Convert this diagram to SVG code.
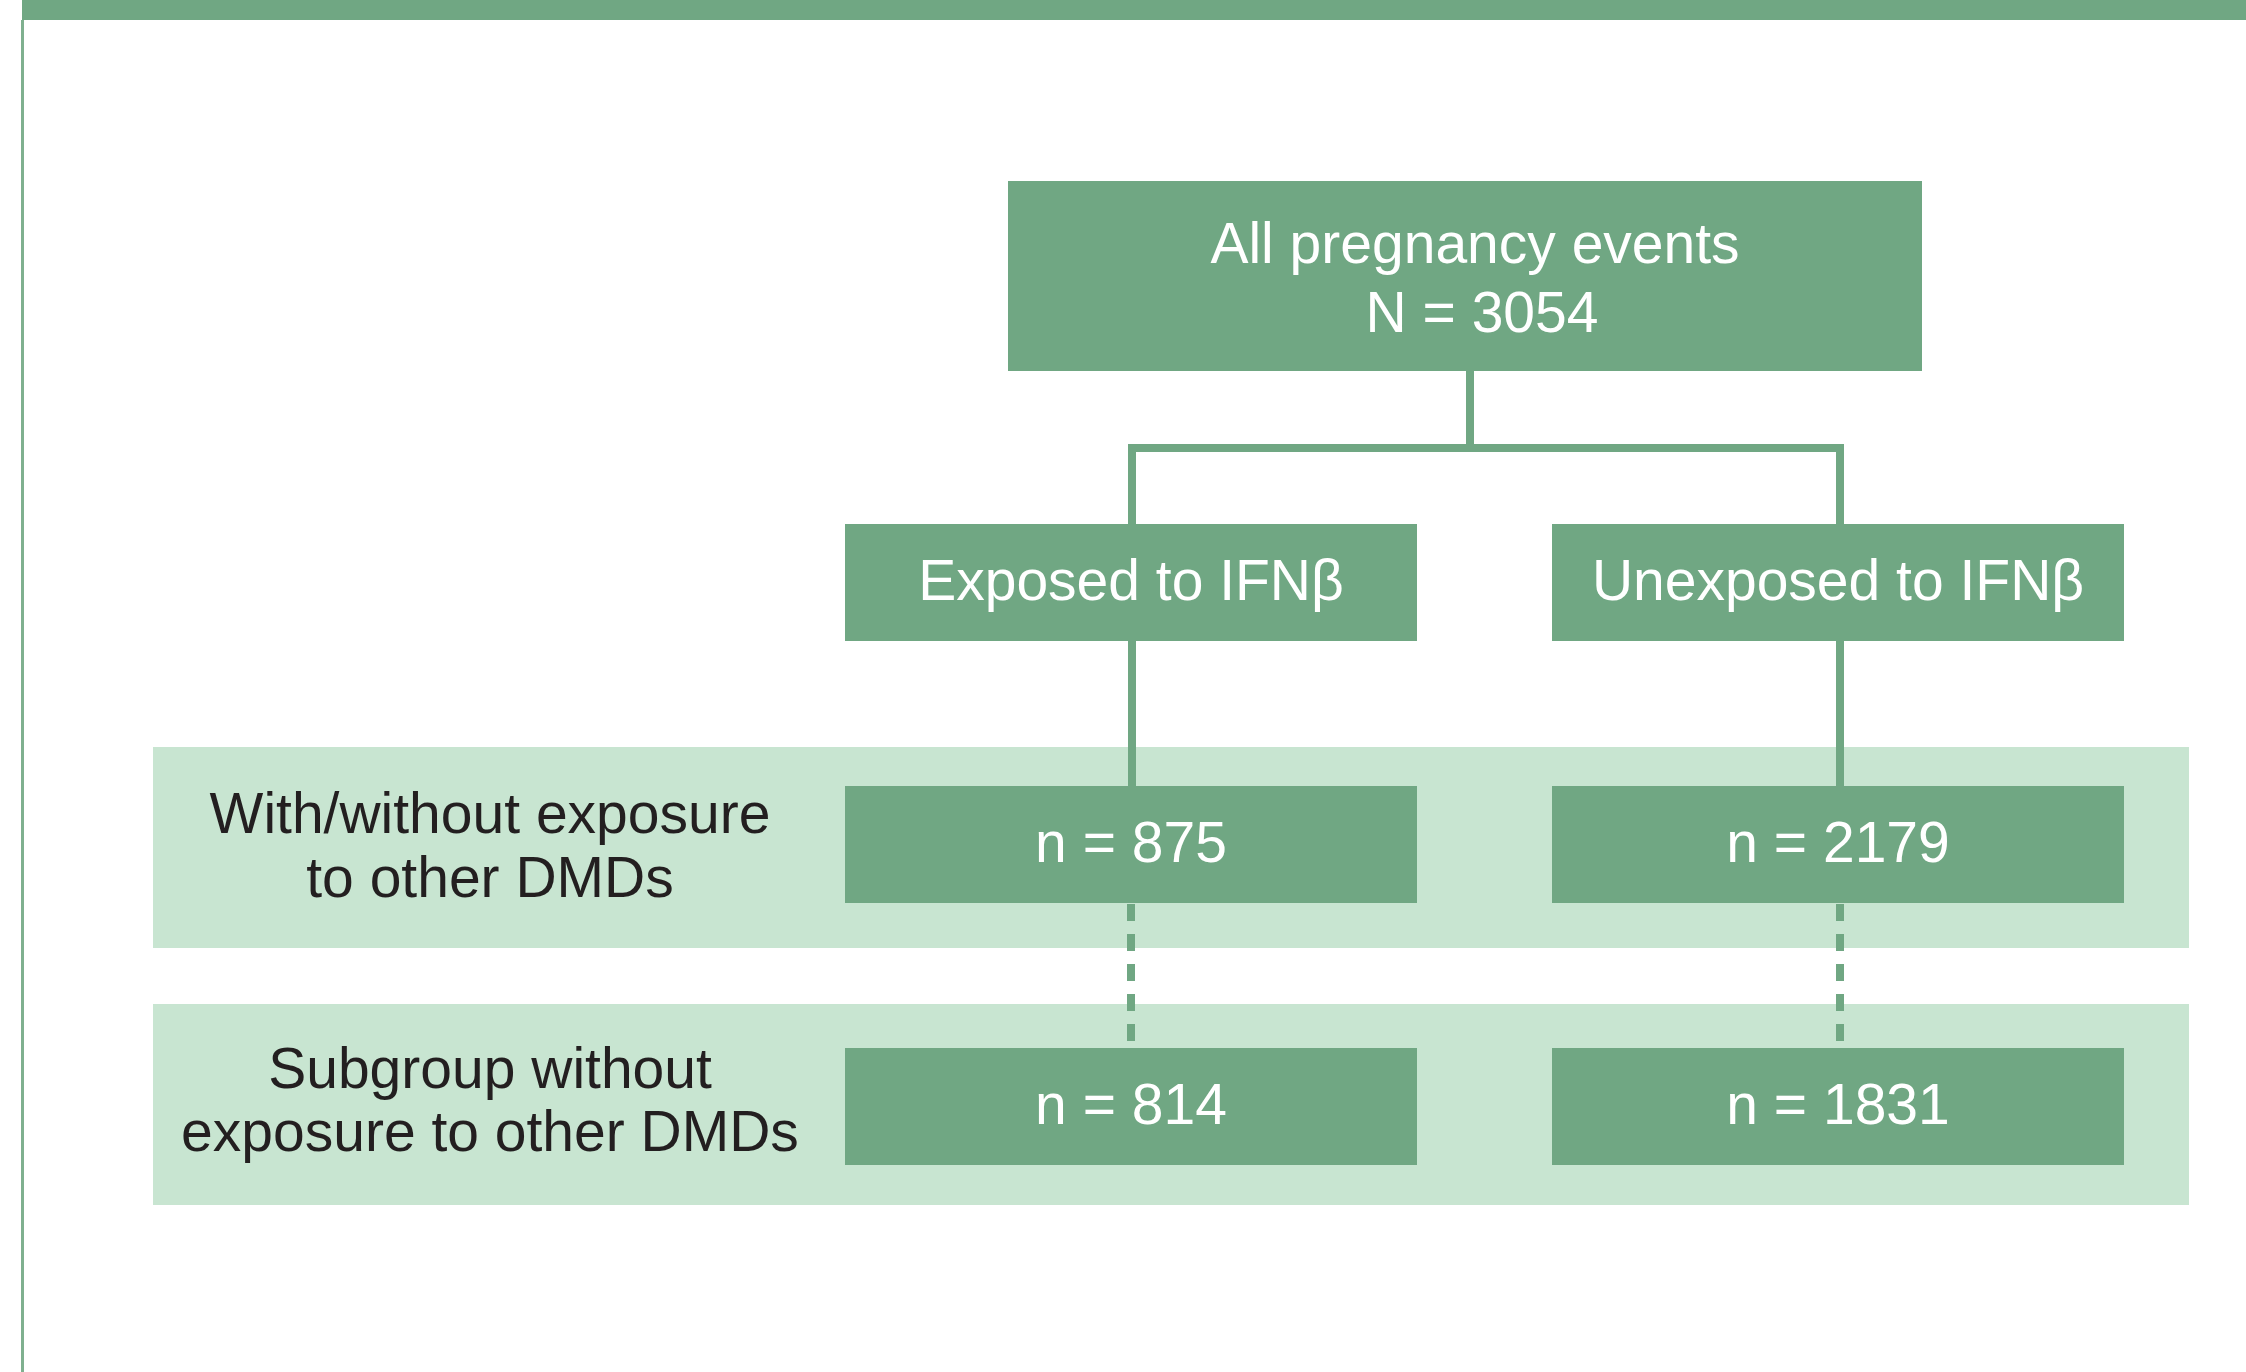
<svg xmlns="http://www.w3.org/2000/svg" width="2246" height="1372" viewBox="0 0 2246 1372">
<style>
.box{fill:#70a783}
.band{fill:#c8e5d1}
.wt{fill:#ffffff;font-family:"Liberation Sans",Arial,sans-serif;font-size:57px;text-anchor:middle}
.dt{fill:#231f20;font-family:"Liberation Sans",Arial,sans-serif;font-size:57px;text-anchor:middle}
.ln{stroke:#70a783;stroke-width:8;fill:none}
.dash{stroke:#70a783;stroke-width:8;fill:none;stroke-dasharray:17 13}
</style>
<rect x="0" y="0" width="2246" height="1372" fill="#ffffff"/>
<rect x="22" y="0" width="2224" height="20" fill="#70a783"/>
<rect x="21" y="20" width="3" height="1352" fill="#7fb08f"/>
<g id="band1"><rect class="band" x="153" y="747" width="2036" height="201"/></g>
<g id="band2"><rect class="band" x="153" y="1004" width="2036" height="201"/></g>
<g id="connectors">
<path class="ln" d="M1470 371 V448 M1128 448 H1844 M1132 448 V524 M1840 448 V524"/>
<path class="ln" d="M1132 641 V786 M1840 641 V786"/>
<path class="dash" d="M1131 904 V1048 M1840 904 V1048"/>
</g>
<g id="all"><rect class="box" x="1008" y="181" width="914" height="190"/>
<text class="wt" x="1475" y="263">All pregnancy events</text>
<text class="wt" x="1482" y="332">N = 3054</text></g>
<g id="exposed"><rect class="box" x="845" y="524" width="572" height="117"/>
<text class="wt" x="1131" y="600">Exposed to IFNβ</text></g>
<g id="unexposed"><rect class="box" x="1552" y="524" width="572" height="117"/>
<text class="wt" x="1838" y="600">Unexposed to IFNβ</text></g>
<g id="label1"><text class="dt" x="490" y="833">With/without exposure</text>
<text class="dt" x="490" y="897">to other DMDs</text></g>
<g id="n875"><rect class="box" x="845" y="786" width="572" height="117"/>
<text class="wt" x="1131" y="862">n = 875</text></g>
<g id="n2179"><rect class="box" x="1552" y="786" width="572" height="117"/>
<text class="wt" x="1838" y="862">n = 2179</text></g>
<g id="label2"><text class="dt" x="490" y="1088">Subgroup without</text>
<text class="dt" x="490" y="1151">exposure to other DMDs</text></g>
<g id="n814"><rect class="box" x="845" y="1048" width="572" height="117"/>
<text class="wt" x="1131" y="1124">n = 814</text></g>
<g id="n1831"><rect class="box" x="1552" y="1048" width="572" height="117"/>
<text class="wt" x="1838" y="1124">n = 1831</text></g>
</svg>
